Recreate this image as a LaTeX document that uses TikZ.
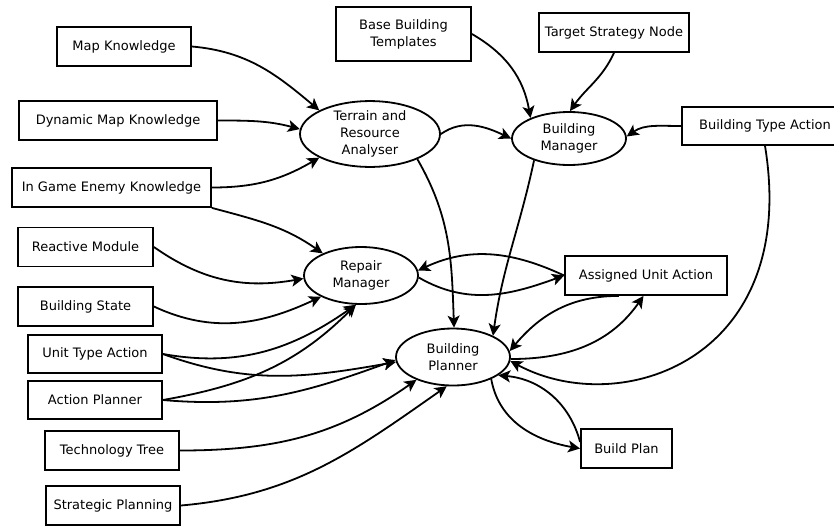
\documentclass[tikz,border=0pt]{standalone}
\usepackage{fontspec}
\setmainfont{DejaVu Sans}
\usetikzlibrary{arrows.meta,shapes.geometric}
\begin{document}
\begin{tikzpicture}[x=1pt,y=1pt,
  every node/.style={font=\fontsize{13}{17}\selectfont},
  box/.style={draw,line width=1.8pt,rectangle,inner sep=0pt,align=center},
  proc/.style={draw,line width=1.8pt,ellipse,inner sep=0pt,align=center},
  link/.style={line width=1.8pt,-{Stealth[length=12pt,width=12pt,inset=3pt]}}]
\useasboundingbox (0,0) rectangle (834,-525);

% input boxes
\node[box,minimum width=134pt,minimum height=39pt] (mk)   at (124,-46.5)  {Map Knowledge};
\node[box,minimum width=198pt,minimum height=39pt] (dmk)  at (118,-120.5) {Dynamic Map Knowledge};
\node[box,minimum width=199pt,minimum height=39pt] (igek) at (111.5,-187.5) {In Game Enemy Knowledge};
\node[box,minimum width=135pt,minimum height=39pt] (rm)   at (85.5,-247)  {Reactive Module};
\node[box,minimum width=135pt,minimum height=39pt] (bs)   at (85.5,-306.5) {Building State};
\node[box,minimum width=134pt,minimum height=38pt] (uta)  at (95,-354)    {Unit Type Action};
\node[box,minimum width=134pt,minimum height=38pt] (ap)   at (95,-400)    {Action Planner};
\node[box,minimum width=134pt,minimum height=39pt] (tt)   at (112,-450.5) {Technology Tree};
\node[box,minimum width=134pt,minimum height=39pt] (sp)   at (113,-505.5) {Strategic Planning};
\node[box,minimum width=135pt,minimum height=54pt] (bbt)  at (403.5,-34)  {Base Building\\Templates};
\node[box,minimum width=150pt,minimum height=39pt] (tsn)  at (614,-32.5)  {Target Strategy Node};
\node[box,minimum width=166pt,minimum height=38pt] (bta)  at (765,-126)   {Building Type Action};
\node[box,minimum width=162pt,minimum height=39pt] (aua)  at (646,-275.5) {Assigned Unit Action};
\node[box,minimum width=91pt,minimum height=39pt]  (bp)   at (626.5,-448.5) {Build Plan};

% processing modules
\node[proc,minimum width=140pt,minimum height=64pt] (tra) at (370,-134) {Terrain and\\Resource\\Analyser};
\node[proc,minimum width=114pt,minimum height=53pt] (bm)  at (569,-138.5) {Building\\Manager};
\node[proc,minimum width=114pt,minimum height=57pt] (rpm) at (361,-275.5) {Repair\\Manager};
\node[proc,minimum width=114pt,minimum height=57pt] (bpl) at (453,-357)   {Building\\Planner};

% into the terrain and resource analyser
\draw[link] (mk.east)   to[out=-5,in=140]  (tra.155);
\draw[link] (dmk.east)  to[out=0,in=165]   (tra.176);
\draw[link] (igek.east) to[out=0,in=210]   (tra.205);

% into the repair manager
\draw[link] (igek.south east) to[out=-15,in=145] (rpm.150);
\draw[link] (rm.east)   to[out=-35,in=190] (rpm.183);
\draw[link] (bs.east)   to[out=-25,in=205] (rpm.208);
\draw[link] (uta.east)  to[out=-10,in=215] (rpm.260);
\draw[link] (ap.east)   to[out=10,in=225]  (rpm.260);

% into the building planner from the left
\draw[link] (uta.east)  to[out=-20,in=190] (bpl.185);
\draw[link] (ap.east)   to[out=-5,in=200]  (bpl.183);
\draw[link] (tt.east)   to[out=0,in=215]   (bpl.212);
\draw[link] (sp.east)   to[out=5,in=215]   (bpl.258);

% into the building manager
\draw[link] (bbt.east)  to[out=-30,in=100] (bm.152);
\draw[link] (tsn.south) to[out=-115,in=55] (bm.88);
\draw[link] (bta.west)  to[out=180,in=35]  (bm.2);
\draw[link] (tra.east)  to[out=35,in=155]  (bm.180);

% analyser and manager into the planner
\draw[link] (tra.-28)   to[out=-60,in=92]  (bpl.88);
\draw[link] (bm.212)    to[out=-102,in=82] (bpl.28);

% repair manager and assigned unit action
\draw[link] (aua.west)  to[out=155,in=25]  (rpm.5);
\draw[link] (rpm.-2)    to[out=-30,in=200] (aua.west);

% planner and assigned unit action
\draw[link] (aua.217)   to[out=180,in=50]  (bpl.6);
\draw[link] (bpl.-2)    to[out=0,in=235]   (aua.263);

% building type action loops round into the planner
\draw[link] (bta.south) .. controls (800,-360) and (620,-420) .. (bpl.-4);

% planner and build plan
\draw[link] (bpl.-30)   to[out=-80,in=170] (bp.west);
\draw[link] (bp.172)    to[out=105,in=-5]  (bpl.-22);
\end{tikzpicture}
\end{document}
